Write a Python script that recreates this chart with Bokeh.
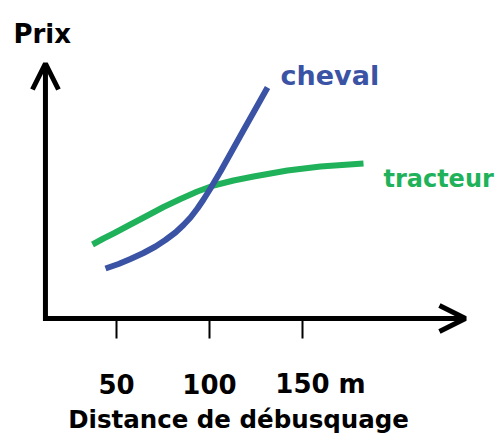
from bokeh.plotting import figure
from bokeh.models import Range1d, Arrow, OpenHead
from bokeh.core.properties import value
from bokeh.embed import file_html
from bokeh.resources import INLINE

# ---- data ----
tick_values = [50, 100, 150]
tick_labels = ["50", "100", "150 m"]

cheval_distance = [44.1, 51.1, 57.5, 64.5, 71.0, 76.3, 81.7, 86.0, 89.8, 93.5, 96.8, 100.5, 105.9, 116.7, 131.2]
cheval_prix = [5.0, 5.45, 5.95, 6.55, 7.2, 7.85, 8.6, 9.35, 10.1, 11.0, 11.9, 13.0, 14.7, 18.3, 23.1]

tracteur_distance = [37.1, 43.0, 48.4, 57.5, 66.7, 75.3, 84.4, 93.5, 102.2, 112.9, 123.7, 141.9, 159.7, 182.8]
tracteur_prix = [7.4, 8.0, 8.5, 9.4, 10.3, 11.15, 11.95, 12.7, 13.3, 13.8, 14.2, 14.8, 15.2, 15.5]

series_names = ["cheval", "tracteur"]
y_title = "Prix"
x_title = "Distance de débusquage"

# ---- styles ----
BLUE = "#3a53a4"
GREEN = "#1fb25a"
FONT = value("DejaVu Sans")

p = figure(width=498, height=436,
           x_range=Range1d(-12.366, 255.376), y_range=Range1d(-11.8, 31.8),
           x_axis_type=None, y_axis_type=None,
           output_backend="svg", toolbar_location=None, min_border=0)
p.outline_line_color = None
p.background_fill_color = "white"

# axes drawn as arrows
x_axis_start = 10.5
x_axis_end = 237.6
y_axis_x = 11.8
y_axis_top = 25.5

p.add_layout(Arrow(x_start=x_axis_start, y_start=0, x_end=x_axis_end, y_end=0,
                   line_width=5, line_color="black",
                   end=OpenHead(size=26, line_width=5, line_color="black")))
p.add_layout(Arrow(x_start=y_axis_x, y_start=-0.25, x_end=y_axis_x, y_end=y_axis_top,
                   line_width=5, line_color="black",
                   end=OpenHead(size=26, line_width=5, line_color="black")))

# ticks
p.segment(x0=tick_values, y0=[0] * len(tick_values), x1=tick_values, y1=[-2.0] * len(tick_values),
          line_width=2, line_color="black")

# tick labels ("150" centred on its tick, " m" trailing)
label_offsets = [0, 0, 18]
p.text(x=tick_values, y=[-6.5] * len(tick_values), text=tick_labels, x_offset=label_offsets,
       text_font=FONT, text_font_style="bold", text_font_size="26px",
       text_align="center", text_baseline="alphabetic", text_color="black")

# curves
p.line(tracteur_distance, tracteur_prix, line_width=6, line_color=GREEN,
       line_join="round", line_cap="butt")
p.line(cheval_distance, cheval_prix, line_width=6, line_color=BLUE,
       line_join="round", line_cap="butt")

# series labels
p.text(x=[138.2], y=[24.3], text=[series_names[0]], text_font=FONT, text_font_style="bold",
       text_font_size="27px", text_align="left", text_baseline="alphabetic", text_color=BLUE)
p.text(x=[193.5], y=[14.0], text=[series_names[1]], text_font=FONT, text_font_style="bold",
       text_font_size="24px", text_align="left", text_baseline="alphabetic", text_color=GREEN)

# axis titles
p.text(x=[-5.4], y=[28.5], text=[y_title], text_font=FONT, text_font_style="bold",
       text_font_size="26px", text_align="left", text_baseline="alphabetic", text_color="black")
p.text(x=[24.0], y=[-10.1], text=[x_title], text_font=FONT, text_font_style="bold",
       text_font_size="24.5px", text_align="left", text_baseline="alphabetic", text_color="black")

open("out.html", "w").write(file_html(p, INLINE))
